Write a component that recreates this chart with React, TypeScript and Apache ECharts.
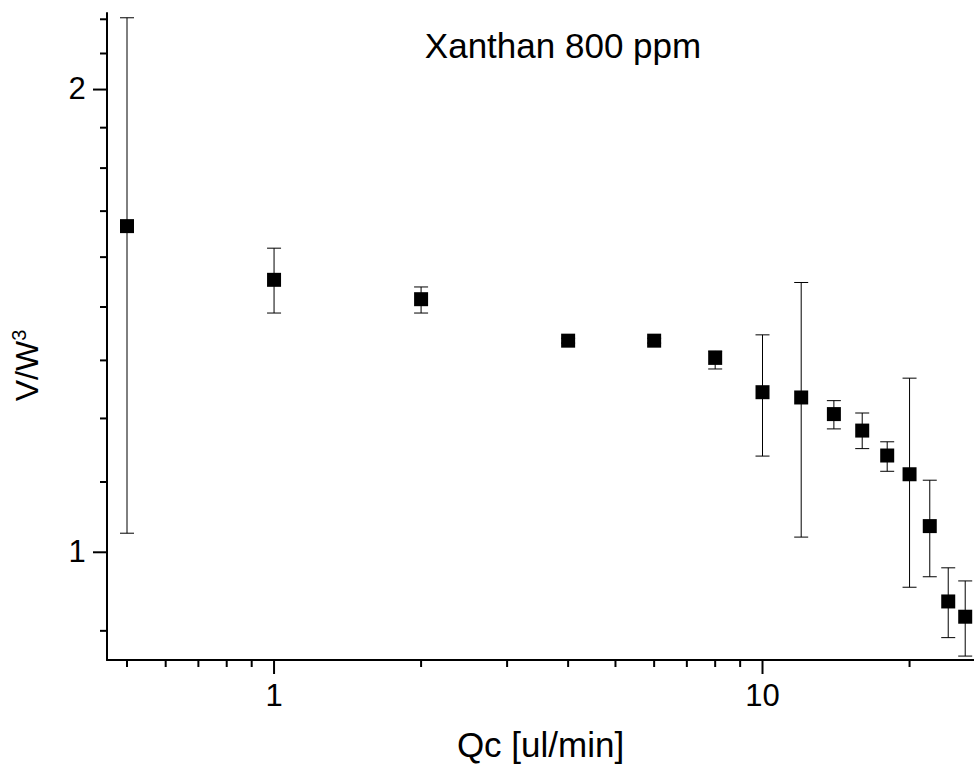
import React, { useEffect, useRef } from "react";
import * as echarts from "echarts";

const qc = [0.5, 1, 2, 4, 6, 8, 10, 12, 14, 16, 18, 20, 22, 24, 26];
const ratio = [1.63, 1.504, 1.461, 1.373, 1.373, 1.338, 1.271, 1.261, 1.23, 1.2, 1.156, 1.124, 1.04, 0.929, 0.908];
const errHigh = [2.227, 1.577, 1.488, 1.378, 1.378, 1.352, 1.385, 1.498, 1.255, 1.232, 1.18, 1.298, 1.114, 0.977, 0.958];
const errLow = [1.029, 1.431, 1.431, 1.368, 1.368, 1.316, 1.155, 1.023, 1.203, 1.168, 1.129, 0.949, 0.964, 0.88, 0.856];

const xMajorTicks = [1, 10];
const xMajorLabels = ["1", "10"];
const xMinorTicks = [0.5, 0.6, 0.7, 0.8, 0.9, 2, 3, 4, 5, 6, 7, 8, 9, 20];
const yMajorTicks = [1, 2];
const yMajorLabels = ["1", "2"];
const yMinorTicks = [0.889, 1.111, 1.222, 1.333, 1.444, 1.556, 1.667, 1.778, 1.889, 2.111, 2.222];

const X_MIN = 0.455;
const X_MAX = 27.1;
const Y_MIN = 0.851;
const Y_MAX = 2.243;

const FONT = "'Liberation Sans', Arial, sans-serif";

export default function App() {
  const ref = useRef<HTMLDivElement>(null);
  useEffect(() => {
    if (!ref.current) return;
    const chart = echarts.init(ref.current, null, { renderer: "svg" });

    const tickItem = (axis: "x" | "y", len: number, withLabel: boolean) =>
      (params: any, api: any) => {
        const v = api.value(0);
        const idx = params.dataIndex;
        if (axis === "x") {
          const p = api.coord([v, Y_MIN]);
          const children: any[] = [
            { type: "line", shape: { x1: p[0], y1: p[1], x2: p[0], y2: p[1] + len }, style: { stroke: "#000", lineWidth: 2 } },
          ];
          if (withLabel) {
            children.push({
              type: "text",
              x: p[0],
              y: p[1] + 35,
              style: { text: xMajorLabels[idx], fill: "#000", fontSize: 31, fontFamily: FONT, align: "center", verticalAlign: "middle" },
            });
          }
          return { type: "group", children };
        } else {
          const p = api.coord([X_MIN, v]);
          const children: any[] = [
            { type: "line", shape: { x1: p[0], y1: p[1], x2: p[0] - len, y2: p[1] }, style: { stroke: "#000", lineWidth: 2 } },
          ];
          if (withLabel) {
            children.push({
              type: "text",
              x: p[0] - 30,
              y: p[1] - 1,
              style: { text: yMajorLabels[idx], fill: "#000", fontSize: 31, fontFamily: FONT, align: "center", verticalAlign: "middle" },
            });
          }
          return { type: "group", children };
        }
      };

    const option: any = {
      animation: false,
      backgroundColor: "#fff",
      grid: { left: 107, right: 0, top: 13, bottom: 109, containLabel: false },
      graphic: [
        {
          type: "text",
          x: 563,
          y: 45,
          style: { text: "Xanthan 800 ppm", fill: "#000", fontSize: 35, fontFamily: FONT, align: "center", verticalAlign: "middle" },
        },
      ],
      xAxis: {
        type: "log",
        logBase: 10,
        min: X_MIN,
        max: X_MAX,
        axisLine: { show: true, onZero: false, lineStyle: { color: "#000", width: 2 } },
        axisTick: { show: false },
        axisLabel: { show: false },
        splitLine: { show: false },
        name: "Qc [ul/min]",
        nameLocation: "middle",
        nameGap: 67,
        nameTextStyle: { color: "#000", fontSize: 35, fontFamily: FONT },
      },
      yAxis: {
        type: "log",
        logBase: 10,
        min: Y_MIN,
        max: Y_MAX,
        axisLine: { show: true, onZero: false, lineStyle: { color: "#000", width: 2 } },
        axisTick: { show: false },
        axisLabel: { show: false },
        splitLine: { show: false },
        name: "{a|V/W}{b|3}",
        nameLocation: "middle",
        nameGap: 62,
        nameTextStyle: {
          color: "#000",
          padding: [0, 0, 0, -58],
          rich: {
            a: { fontSize: 32, fontFamily: FONT, color: "#000", lineHeight: 36 },
            b: { fontSize: 20, fontFamily: FONT, color: "#000", verticalAlign: "top", lineHeight: 36, padding: [0, 0, 12, 0] },
          },
        },
      },
      series: [
        {
          type: "custom",
          name: "errorbars",
          clip: false,
          silent: true,
          data: qc.map((x, i) => [x, errLow[i], errHigh[i]]),
          renderItem: (params: any, api: any) => {
            const x = api.value(0);
            const lo = api.coord([x, api.value(1)]);
            const hi = api.coord([x, api.value(2)]);
            const hw = 7;
            const st = { stroke: "#000", lineWidth: 1 };
            return {
              type: "group",
              children: [
                { type: "line", shape: { x1: lo[0], y1: lo[1], x2: hi[0], y2: hi[1] }, style: st },
                { type: "line", shape: { x1: lo[0] - hw, y1: lo[1], x2: lo[0] + hw, y2: lo[1] }, style: st },
                { type: "line", shape: { x1: hi[0] - hw, y1: hi[1], x2: hi[0] + hw, y2: hi[1] }, style: st },
              ],
            };
          },
          z: 2,
        },
        {
          type: "scatter",
          name: "V/W3",
          data: qc.map((x, i) => [x, ratio[i]]),
          symbol: "rect",
          symbolSize: 14,
          itemStyle: { color: "#000", opacity: 1 },
          z: 3,
        },
        {
          type: "custom",
          clip: false,
          silent: true,
          data: xMajorTicks.map((v) => [v]),
          renderItem: tickItem("x", 14, true),
        },
        {
          type: "custom",
          clip: false,
          silent: true,
          data: xMinorTicks.map((v) => [v]),
          renderItem: tickItem("x", 7, false),
        },
        {
          type: "custom",
          clip: false,
          silent: true,
          encode: { y: 0 },
          data: yMajorTicks.map((v) => [v]),
          renderItem: tickItem("y", 14, true),
        },
        {
          type: "custom",
          clip: false,
          silent: true,
          encode: { y: 0 },
          data: yMinorTicks.map((v) => [v]),
          renderItem: tickItem("y", 7, false),
        },
      ],
    };
    chart.setOption(option);
    return () => chart.dispose();
  }, []);

  return (
    <div
      ref={ref}
      style={{ position: "absolute", left: 0, top: 0, width: 974, height: 769, background: "#fff" }}
    />
  );
}
